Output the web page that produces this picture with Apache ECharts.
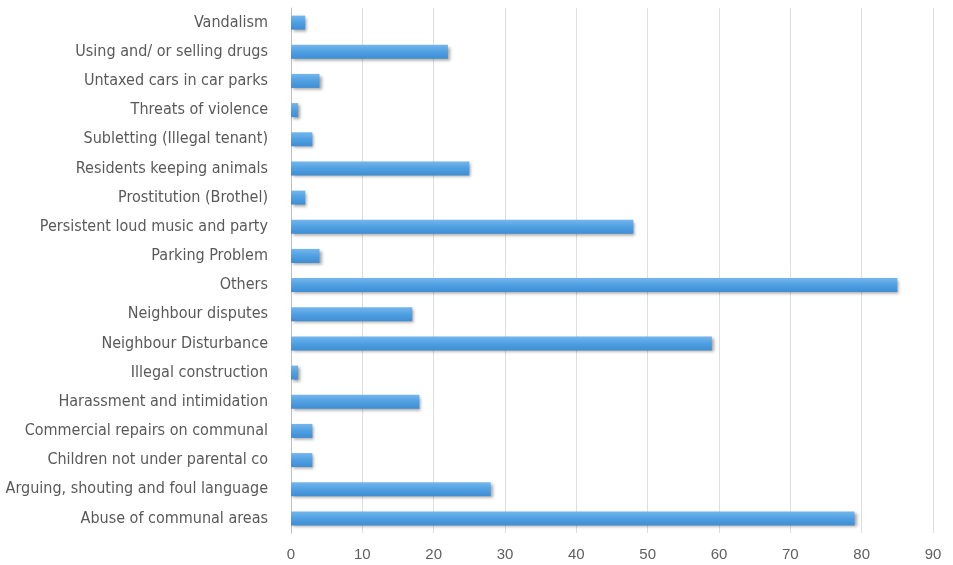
<!DOCTYPE html>
<html>
<head>
<meta charset="utf-8">
<style>
  html, body { margin: 0; padding: 0; background: #ffffff; }
  #chart { width: 953px; height: 565px; }
</style>
<script src="https://cdn.jsdelivr.net/npm/echarts@6/dist/echarts.min.js"></script>
</head>
<body>
<div id="chart"></div>
<script>
// Complaint categories, listed bottom to top on the value axis
const categories = [
  'Abuse of communal areas',
  'Arguing, shouting and foul language',
  'Children not under parental co',
  'Commercial repairs on communal',
  'Harassment and intimidation',
  'Illegal construction',
  'Neighbour Disturbance',
  'Neighbour disputes',
  'Others',
  'Parking Problem',
  'Persistent loud music and party',
  'Prostitution (Brothel)',
  'Residents keeping animals',
  'Subletting (Illegal tenant)',
  'Threats of violence',
  'Untaxed cars in car parks',
  'Using and/ or selling drugs',
  'Vandalism'
];

// Number of reports per category
const counts = [79, 28, 3, 3, 18, 1, 59, 17, 85, 4, 48, 2, 25, 3, 1, 4, 22, 2];

// Value axis ticks
const axisMin = 0;
const axisMax = 90;
const axisStep = 10;

const chart = echarts.init(document.getElementById('chart'));

chart.setOption({
  backgroundColor: '#ffffff',
  animation: false,
  grid: {
    left: 291, right: 20, top: 8, bottom: 32,
    containLabel: false,
    outerBoundsMode: 'none'
  },
  xAxis: {
    type: 'value',
    min: axisMin,
    max: axisMax,
    interval: axisStep,
    axisLine: { show: false },
    axisTick: { show: false },
    splitLine: { lineStyle: { color: '#dedede', width: 1 } },
    axisLabel: {
      color: '#5f5f5f',
      fontFamily: 'Liberation Sans, Arial, sans-serif',
      fontSize: 15,
      margin: 14
    }
  },
  yAxis: {
    type: 'category',
    data: categories,
    axisLine: { show: true, lineStyle: { color: '#bfbfbf', width: 1 } },
    axisTick: { show: false },
    axisLabel: {
      color: '#595959',
      fontFamily: 'Liberation Sans Narrow, DejaVu Sans Condensed, sans-serif',
      fontSize: 16,
      margin: 23
    }
  },
  series: [{
    type: 'bar',
    data: counts,
    barWidth: 14,
    itemStyle: {
      color: new echarts.graphic.LinearGradient(0, 0, 0, 1, [
        { offset: 0, color: '#74b6ec' },
        { offset: 0.5, color: '#4fa0e2' },
        { offset: 1, color: '#3f8dd3' }
      ]),
      shadowColor: 'rgba(0,0,0,0.35)',
      shadowBlur: 3,
      shadowOffsetX: 2,
      shadowOffsetY: 2
    }
  }]
});
</script>
</body>
</html>
